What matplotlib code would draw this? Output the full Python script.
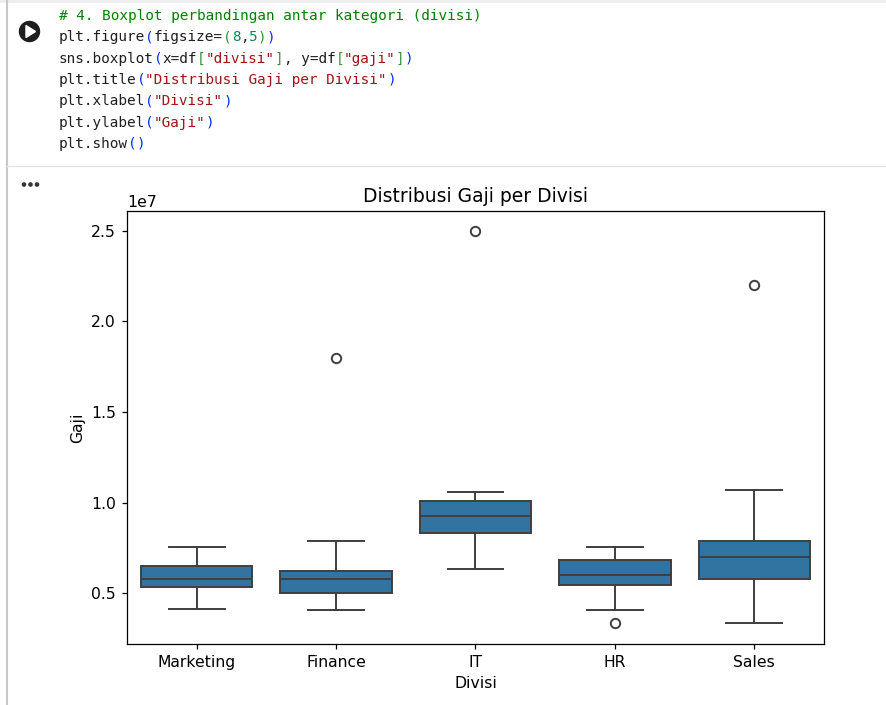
import matplotlib
matplotlib.use("Agg")
import matplotlib.pyplot as plt
from matplotlib.patches import Circle, Polygon

# ---------------- data (salary stats per division, in rupiah) ----------------
divisi = ["Marketing", "Finance", "IT", "HR", "Sales"]
whislo = [4.14e6, 4.07e6, 6.37e6, 4.07e6, 3.39e6]
q1     = [5.37e6, 5.00e6, 8.33e6, 5.48e6, 5.78e6]
median = [5.80e6, 5.78e6, 9.26e6, 6.04e6, 7.03e6]
q3     = [6.53e6, 6.22e6, 10.10e6, 6.85e6, 7.90e6]
whishi = [7.57e6, 7.90e6, 10.59e6, 7.57e6, 10.72e6]
fliers = [[], [1.80e7], [2.50e7], [3.39e6], [2.20e7]]

# ---------------- notebook code cell text ----------------
BLK = "#1f1f1f"; GRN = "#008000"; BLU = "#0431fa"; BR2 = "#319331"
RED = "#a31515"; NUM = "#098658"
code_lines = [
    [("# 4. Boxplot perbandingan antar kategori (divisi)", GRN)],
    [("plt.figure", BLK), ("(", BLU), ("figsize=", BLK), ("(", BR2), ("8", NUM),
     (",", BLK), ("5", NUM), (")", BR2), (")", BLU)],
    [("sns.boxplot", BLK), ("(", BLU), ("x=df", BLK), ("[", BR2), ('"divisi"', RED),
     ("]", BR2), (", y=df", BLK), ("[", BR2), ('"gaji"', RED), ("]", BR2), (")", BLU)],
    [("plt.title", BLK), ("(", BLU), ('"Distribusi Gaji per Divisi"', RED), (")", BLU)],
    [("plt.xlabel", BLK), ("(", BLU), ('"Divisi"', RED), (")", BLU)],
    [("plt.ylabel", BLK), ("(", BLU), ('"Gaji"', RED), (")", BLU)],
    [("plt.show", BLK), ("(", BLU), (")", BLU)],
]

S = 1.124  # screenshot scale of the original figure
plt.rcParams.update({
    "font.size": 10 * S,
    "axes.titlesize": 12 * S,
    "axes.labelsize": 10 * S,
    "xtick.labelsize": 10 * S,
    "ytick.labelsize": 10 * S,
    "axes.linewidth": 0.8 * S,
    "xtick.major.width": 0.8 * S,
    "ytick.major.width": 0.8 * S,
    "xtick.major.size": 3.5 * S,
    "ytick.major.size": 3.5 * S,
    "xtick.major.pad": 3.5 * S,
    "ytick.major.pad": 3.5 * S,
    "axes.titlepad": 6 * S,
    "axes.labelpad": 4 * S,
})

W, H = 886, 705
fig = plt.figure(figsize=(W / 100, H / 100), dpi=100)
fig.patch.set_facecolor("white")

bg = fig.add_axes([0, 0, 1, 1], zorder=-1)
bg.set_xlim(0, W)
bg.set_ylim(H, 0)
bg.axis("off")

# cell frame
bg.plot([7, 7], [0, H], color="#c8c8c8", lw=1.5, solid_capstyle="butt")
bg.plot([7, W], [166, 166], color="#e3e3e3", lw=1.0)
bg.fill_between([0, W], 0, 2.5, color="#eeeeee", lw=0)

# run button
bg.add_patch(Circle((29.5, 31.5), 10, color="#1e1e1e"))
bg.add_patch(Polygon([[26, 25.5], [26, 37.5], [35.5, 31.5]], closed=True, color="white"))

# code text
char_w = 8.64
fs = char_w / 0.602 * 72 / 100
x0 = 59
for i, segs in enumerate(code_lines):
    yb = 20 + 21.33 * i
    col = 0
    for txt, c in segs:
        bg.text(x0 + col * char_w, yb, txt, color=c, family="DejaVu Sans Mono",
                fontsize=fs, va="baseline", ha="left")
        col += len(txt)

# output ellipsis
for dx in (24, 30.5, 37):
    bg.add_patch(Circle((dx, 184.5), 1.6, color="#333333"))

# ---------------- chart ----------------
left, right, top, bottom = 127, 824, 211, 644
ax = fig.add_axes([left / W, 1 - bottom / H, (right - left) / W, (bottom - top) / H])

stats = []
for i, name in enumerate(divisi):
    stats.append(dict(label=name, whislo=whislo[i], q1=q1[i], med=median[i],
                      q3=q3[i], whishi=whishi[i], fliers=fliers[i]))

box_face = "#3274a1"
line_c = "#3f3f3f"
lw = 1.25 * S
ax.bxp(stats, positions=range(len(divisi)), widths=0.8, capwidths=0.4,
       patch_artist=True, showfliers=True,
       boxprops=dict(facecolor=box_face, edgecolor=line_c, linewidth=lw),
       medianprops=dict(color=line_c, linewidth=lw),
       whiskerprops=dict(color=line_c, linewidth=lw),
       capprops=dict(color=line_c, linewidth=lw),
       flierprops=dict(marker="o", markersize=6 * S, markerfacecolor="none",
                       markeredgecolor=line_c, markeredgewidth=lw, linestyle="none"))

ax.set_xlim(-0.5, len(divisi) - 0.5)
ax.set_ylim(2.215e6, 2.6085e7)
ax.set_xticks(range(len(divisi)))
ax.set_xticklabels(divisi)
ax.set_title("Distribusi Gaji per Divisi")
ax.set_xlabel("Divisi")
ax.set_ylabel("Gaji")

fig.savefig("out.png", dpi=100)
